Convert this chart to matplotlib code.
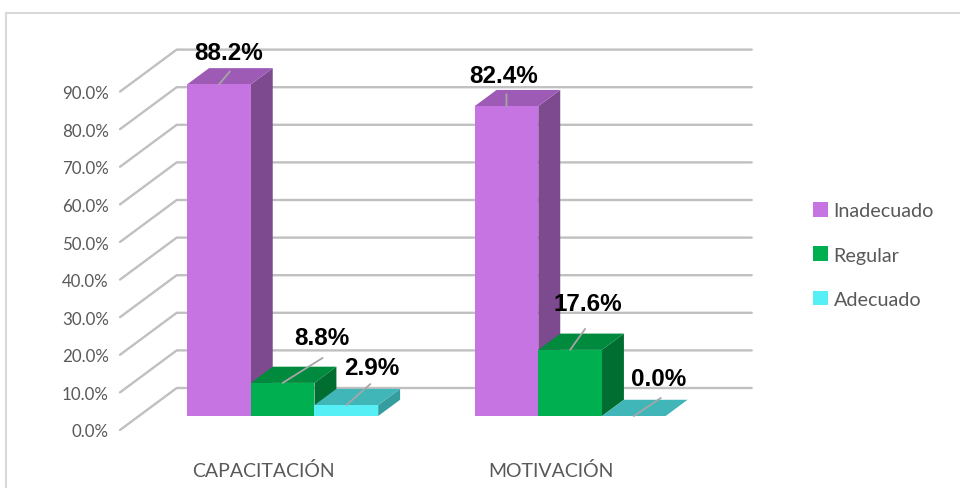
import numpy as np
import matplotlib.pyplot as plt
from matplotlib.patches import Polygon, Rectangle, Patch

plt.rcParams.update({'font.family': ['Lato', 'DejaVu Sans']})

#==============================================================================
# DATA
#==============================================================================
categories = ['CAPACITACIÓN', 'MOTIVACIÓN']
series = ['Inadecuado', 'Regular', 'Adecuado']
inadecuado = [88.2, 82.4]
regular = [8.8, 17.6]
adecuado = [2.9, 0.0]
yticks = np.arange(0, 100, 10)

#==============================================================================
# STYLE
#==============================================================================
# front, top, side colours for each series
colors = [('#C774E3', '#9D5BB6', '#7E4A8F'),
          ('#00B050', '#008A3E', '#006E31'),
          ('#55EFF5', '#41B6B8', '#369D9F')]
grid_c = '#C0C0C0'
text_c = '#595959'

W = 0.2215            # bar width (category units)
DX = 57 / 289         # full depth shift, x units
DY = 42 / 3.76        # full depth shift, y units (percent)
z0, z1 = 1 / 3, 0.72  # bar front / back depth

# label / leader offsets in pixels (leader end, label centre), per group & series
leader = [[(11, 13), (40, 25), (24, 21)],
          [(0, 12), (15, 21), (27, 18)]]
lab = [[(10, 32), (39, 45), (25, 38)],
       [(-3, 31), (18, 46), (25, 37)]]


def P(x, y, z):
    return (x + z * DX, y + z * DY)


fig = plt.figure(figsize=(9.6, 4.89), dpi=100)
ax = fig.add_axes([120 / 960, (489 - 431) / 489, 575 / 960, 376 / 489])
ax.set_xlim(-0.5, 1.5)
ax.set_ylim(0, 100)
for s in ax.spines.values():
    s.set_visible(False)

# grid: left wall diagonals + back wall lines
for v in yticks:
    pts = [P(-0.5, v, 0), P(-0.5, v, 1), P(1.5, v, 1)]
    ax.plot([p[0] for p in pts], [p[1] for p in pts], color=grid_c,
            lw=1.7, clip_on=False, zorder=1, solid_capstyle='round')

values = [inadecuado, regular, adecuado]
for g in range(len(categories)):
    for i in range(len(series)):
        v = values[i][g]
        xc = g + (i - 1) * W
        x0, x1 = xc - W / 2, xc + W / 2
        front, top, side = colors[i]
        z = 2 + g * 3 + i
        ax.add_patch(Polygon([P(x1, 0, z0), P(x1, v, z0), P(x1, v, z1), P(x1, 0, z1)],
                             closed=True, fc=side, ec='none', clip_on=False, zorder=z))
        ax.add_patch(Polygon([P(x0, v, z0), P(x1, v, z0), P(x1, v, z1), P(x0, v, z1)],
                             closed=True, fc=top, ec='none', clip_on=False, zorder=z))
        ax.add_patch(Polygon([P(x0, 0, z0), P(x1, 0, z0), P(x1, v, z0), P(x0, v, z0)],
                             closed=True, fc=front, ec='none', clip_on=False, zorder=z))
        start = P(xc, v, z0)
        lx, ly = leader[g][i]
        ax.annotate('', xy=start, xytext=(lx, ly), textcoords='offset pixels',
                    arrowprops=dict(arrowstyle='-', color='#A6A6A6', lw=1.3,
                                    shrinkA=0, shrinkB=0), zorder=20)
        tx, ty = lab[g][i]
        ax.annotate('{:.1f}%'.format(v), xy=start, xytext=(tx, ty),
                    textcoords='offset pixels', ha='center', va='center',
                    fontsize=17.5, fontweight='bold', color='black', zorder=21,
                    family=['Liberation Sans', 'DejaVu Sans'])

ax.set_yticks(yticks)
ax.set_yticklabels(['{:.1f}%'.format(t) for t in yticks], fontsize=12.2, color=text_c)
ax.set_xticks(range(len(categories)))
ax.set_xticklabels(categories, fontsize=14, color=text_c)
ax.tick_params(axis='both', length=0)
ax.tick_params(axis='y', pad=8)
ax.tick_params(axis='x', pad=22)

handles = [Patch(fc=c[0], ec='none') for c in colors]
fig.legend(handles, series, loc='center left', bbox_to_anchor=(795 / 960, 1 - 256 / 489),
           frameon=False, fontsize=14.2, labelcolor=text_c, handlelength=0.75,
           handleheight=0.75, handletextpad=0.3, labelspacing=1.38)

fig.patches.append(Rectangle((6 / 960, -0.1), 1.1, (489 - 14) / 489 + 0.1,
                             transform=fig.transFigure, fill=False,
                             ec='#D9D9D9', lw=1.5))

fig.savefig('out.png', dpi=100)
